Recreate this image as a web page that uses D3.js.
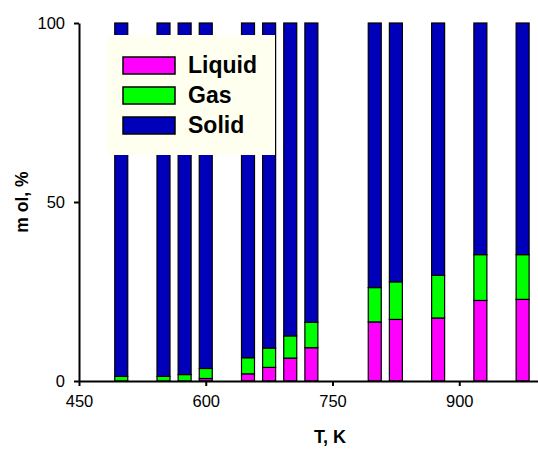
<!DOCTYPE html>
<html>
<head>
<meta charset="utf-8">
<script src="https://cdn.jsdelivr.net/npm/d3@7"></script>
<style>
  body { margin: 0; background: #fff; }
  svg { display: block; font-family: "Liberation Sans", Arial, sans-serif; }
</style>
</head>
<body>
<svg id="chart" width="538" height="452"></svg>
<script>
// temperatures (K) and phase composition (mol, %)
let temps = [500, 550, 575, 600, 650, 675, 700, 725, 800, 825, 875, 925, 975];
let liquid = [0, 0, 0, 0.7, 2.0, 3.8, 6.4, 9.3, 16.5, 17.2, 17.6, 22.5, 22.8];
let gas = [1.3, 1.3, 1.8, 2.8, 4.5, 5.4, 6.2, 7.1, 9.6, 10.5, 11.9, 12.8, 12.5];
let solid = [98.7, 98.7, 98.2, 96.5, 93.5, 90.8, 87.4, 83.6, 73.9, 72.3, 70.5, 64.7, 64.7];
let phases = ["Liquid", "Gas", "Solid"];
let xTicks = [450, 600, 750, 900];
let yTicks = [0, 50, 100];

let colors = { "Liquid": "#ff00ff", "Gas": "#00ff00", "Solid": "#0000bb" };

let svg = d3.select("#chart");
let barWidth = 13;

let xScale = d3.scaleLinear()
    .domain([450, 1000])
    .range([79, 79 + 550 * 0.845]);

let yScale = d3.scaleLinear()
    .domain([0, 100])
    .range([381, 23]);

let rows = temps.map(function(t, i) {
    return { T: t, Liquid: liquid[i], Gas: gas[i], Solid: solid[i] };
});
let series = d3.stack().keys(phases)(rows);

// stacked bars
series.forEach(function(s) {
    svg.selectAll(".bar-" + s.key)
        .data(s)
        .enter()
        .append("rect")
        .attr("x", function(d) { return xScale(d.data.T) - barWidth / 2; })
        .attr("y", function(d) { return yScale(d[1]); })
        .attr("width", barWidth)
        .attr("height", function(d) { return Math.max(0, yScale(d[0]) - yScale(d[1])); })
        .attr("fill", colors[s.key])
        .attr("stroke", "#000")
        .attr("stroke-width", 1.2);
});

// x axis
let xAxis = svg.append("g")
    .attr("transform", "translate(0," + yScale(0) + ")")
    .call(d3.axisBottom(xScale).tickValues(xTicks).tickSize(5).tickSizeOuter(0).tickPadding(9));
xAxis.select(".domain").attr("stroke-width", 2);
xAxis.selectAll(".tick line").attr("stroke-width", 2);
xAxis.selectAll("text")
    .style("font-size", "16.5px")
    .style("fill", "#000")
    .style("font-family", "Liberation Sans, Arial, sans-serif");

// y axis
let yAxis = svg.append("g")
    .attr("transform", "translate(" + xScale(450) + ",0)")
    .call(d3.axisLeft(yScale).tickValues(yTicks).tickSize(5).tickSizeOuter(0).tickPadding(9));
yAxis.select(".domain").attr("stroke-width", 2);
yAxis.selectAll(".tick line").attr("stroke-width", 2);
yAxis.selectAll("text")
    .style("font-size", "16.5px")
    .style("fill", "#000")
    .style("font-family", "Liberation Sans, Arial, sans-serif");

// axis titles
svg.append("text")
    .attr("x", 330)
    .attr("y", 443)
    .attr("text-anchor", "middle")
    .style("font-size", "18px")
    .style("font-weight", "bold")
    .text("T, K");
svg.append("text")
    .attr("transform", "translate(28,202) rotate(-90)")
    .attr("text-anchor", "middle")
    .style("font-size", "17.5px")
    .style("font-weight", "bold")
    .text("m ol, %");

// legend
let legend = svg.append("g").attr("transform", "translate(107,35)");
legend.append("rect")
    .attr("width", 168)
    .attr("height", 120)
    .attr("fill", "#fffff0");
phases.forEach(function(p, i) {
    legend.append("rect")
        .attr("x", 16)
        .attr("y", 22 + i * 30)
        .attr("width", 52)
        .attr("height", 17)
        .attr("fill", colors[p])
        .attr("stroke", "#000")
        .attr("stroke-width", 1.5);
    legend.append("text")
        .attr("x", 81)
        .attr("y", 38 + i * 30)
        .style("font-size", "23px")
        .style("font-weight", "bold")
        .text(p);
});
</script>
</body>
</html>
